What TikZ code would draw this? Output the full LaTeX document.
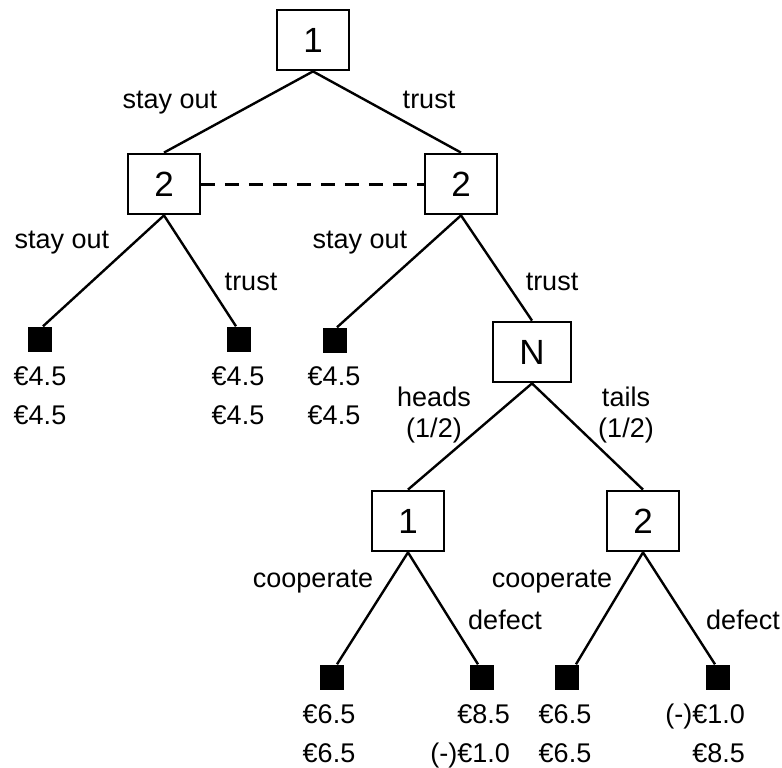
\documentclass[tikz,border=0pt]{standalone}
\usepackage{fontspec}
\setmainfont{Liberation Sans}
\begin{document}
\begin{tikzpicture}[x=1pt,y=-1pt,
  decbox/.style={draw, line width=2.3pt, minimum width=71.5pt, minimum height=60.5pt, inner sep=0pt, font=\fontsize{35}{40}\selectfont},
  leafbox/.style={fill=black, minimum width=24pt, minimum height=25pt, inner sep=0pt},
  edge/.style={line width=2.4pt},
  lbl/.style={anchor=base, inner sep=0pt, font=\fontsize{27}{32}\selectfont},
  pay/.style={anchor=base, inner sep=0pt, font=\fontsize{27}{32}\selectfont},
  payr/.style={anchor=base east, inner sep=0pt, font=\fontsize{27}{32}\selectfont}]
\useasboundingbox (0,0) rectangle (782,768);
% decision nodes
\node[decbox] (r) at (313,40) {1};
\node[decbox] (a) at (164,184) {2};
\node[decbox] (b) at (461,184) {2};
\node[decbox, minimum width=77.5pt] (n) at (532,352) {N};
\node[decbox] (c) at (408,521) {1};
\node[decbox] (d) at (643,521) {2};
% leaves
\node[leafbox] (l1) at (40,339) {};
\node[leafbox] (l2) at (239,339) {};
\node[leafbox] (l3) at (335,340) {};
\node[leafbox] (l4) at (332,677) {};
\node[leafbox] (l5) at (482,677) {};
\node[leafbox] (l6) at (567,677) {};
\node[leafbox] (l7) at (718,677) {};
% edges
\draw[edge] (r.south) -- (a.north);
\draw[edge] (r.south) -- (b.north);
\draw[edge] (a.south) -- ([xshift=3pt]l1.north);
\draw[edge] (a.south) -- ([xshift=-3pt]l2.north);
\draw[edge] (b.south) -- ([xshift=2pt]l3.north);
\draw[edge] (b.south) -- (n.north);
\draw[edge] (n.south) -- (c.north);
\draw[edge] (n.south) -- (d.north);
\draw[edge] (c.south) -- ([xshift=5pt]l4.north);
\draw[edge] (c.south) -- ([xshift=-4pt]l5.north);
\draw[edge] (d.south) -- ([xshift=9pt]l6.north);
\draw[edge] (d.south) -- ([xshift=-3pt]l7.north);
% information set
\draw[line width=3pt, dash pattern=on 14pt off 10pt] (a.east) -- (b.west);
% action labels
\node[lbl] (t1) at (170,108) {stay out};
\node[lbl] (t2) at (429,108) {trust};
\node[lbl] (t3) at (62,248) {stay out};
\node[lbl] (t4) at (251,290) {trust};
\node[lbl] (t5) at (360,248) {stay out};
\node[lbl] (t6) at (552,290) {trust};
\node[lbl] (t7) at (434,406) {heads};
\node[lbl] (t7b) at (434,437) {(1/2)};
\node[lbl] (t8) at (626,406) {tails};
\node[lbl] (t8b) at (626,437) {(1/2)};
\node[lbl] (t9) at (313,587) {cooperate};
\node[lbl] (t10) at (505,629) {defect};
\node[lbl] (t11) at (552,587) {cooperate};
\node[lbl] (t12) at (743,629) {defect};
% payoffs
\node[pay] (p1a) at (40,385) {€4.5};
\node[pay] (p1b) at (40,424) {€4.5};
\node[pay] (p2a) at (238,385) {€4.5};
\node[pay] (p2b) at (238,424) {€4.5};
\node[pay] (p3a) at (334,385) {€4.5};
\node[pay] (p3b) at (334,424) {€4.5};
\node[pay] (p4a) at (329,723) {€6.5};
\node[pay] (p4b) at (329,762) {€6.5};
\node[payr] (p5a) at (510,723) {€8.5};
\node[payr] (p5b) at (510,762) {(-)€1.0};
\node[pay] (p6a) at (565,723) {€6.5};
\node[pay] (p6b) at (565,762) {€6.5};
\node[payr] (p7a) at (745,723) {(-)€1.0};
\node[payr] (p7b) at (745,762) {€8.5};
\end{tikzpicture}
\end{document}
